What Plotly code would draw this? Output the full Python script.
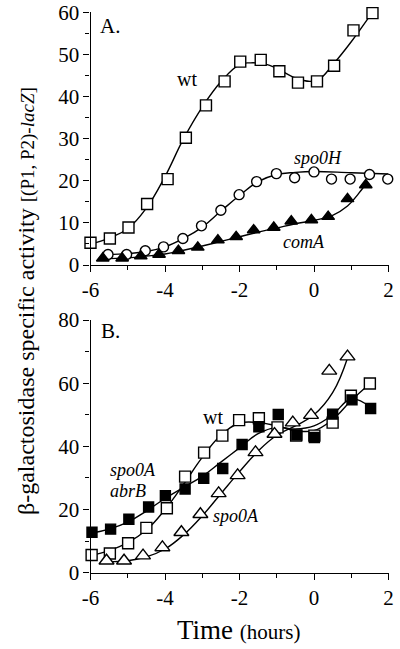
import plotly.graph_objects as go

# ---------------- Panel A data ----------------
a_wt_x = [-6.0, -5.48, -4.98, -4.48, -3.93, -3.44, -2.9, -2.4, -1.98, -1.43, -0.93, -0.43, 0.08, 0.54, 1.06, 1.57]
a_wt_y = [5.3, 6.3, 8.9, 14.5, 20.4, 30.2, 37.9, 43.6, 48.3, 48.7, 46.0, 43.3, 43.6, 47.3, 55.7, 59.8]
a_wt_fit_x = [-6.0, -5.5, -5.0, -4.5, -4.0, -3.5, -3.0, -2.5, -2.0, -1.7, -1.3, -1.0, -0.5, -0.1, 0.15, 0.5, 1.0, 1.55]
a_wt_fit_y = [5.0, 6.4, 8.6, 13.5, 21.0, 30.0, 37.5, 43.5, 47.6, 48.0, 47.7, 46.7, 44.4, 43.6, 44.2, 47.5, 53.0, 59.8]

a_h_x = [-5.53, -5.03, -4.53, -4.04, -3.52, -3.02, -2.5, -2.01, -1.54, -1.01, -0.52, 0.0, 0.47, 0.97, 1.49, 1.98]
a_h_y = [2.5, 2.5, 3.4, 4.3, 6.3, 9.3, 13.0, 16.7, 19.8, 21.7, 20.7, 22.1, 20.4, 20.4, 21.5, 20.4]
a_h_fit_x = [-5.55, -5.0, -4.5, -4.0, -3.5, -3.0, -2.5, -2.0, -1.5, -1.0, -0.5, 0.0, 1.0, 2.0]
a_h_fit_y = [2.5, 2.7, 3.2, 4.3, 6.3, 9.0, 12.8, 16.5, 19.8, 21.5, 22.0, 22.2, 21.9, 21.6]

a_c_x = [-5.67, -5.15, -4.65, -4.16, -3.64, -3.12, -2.58, -2.09, -1.62, -1.08, -0.61, -0.07, 0.38, 0.9, 1.39]
a_c_y = [1.6, 1.6, 2.1, 2.5, 3.4, 4.2, 5.9, 6.7, 8.3, 8.9, 10.4, 10.7, 11.5, 15.7, 19.0]
a_c_fit_x = [-5.7, -5.0, -4.5, -4.0, -3.5, -3.0, -2.5, -2.0, -1.5, -1.0, -0.5, 0.0, 0.5, 0.9, 1.2, 1.37]
a_c_fit_y = [1.5, 1.7, 2.1, 2.6, 3.5, 4.5, 5.6, 6.7, 7.8, 8.8, 9.8, 10.6, 11.8, 14.0, 17.0, 19.0]

# ---------------- Panel B data ----------------
b_wt_x = [-5.97, -5.48, -4.99, -4.5, -3.95, -3.46, -2.95, -2.46, -2.01, -1.48, -0.98, -0.48, 0.01, 0.5, 0.99, 1.5]
b_wt_y = [5.6, 6.1, 9.3, 14.2, 20.4, 30.4, 38.0, 43.4, 48.3, 48.9, 46.0, 43.4, 43.4, 47.5, 56.0, 59.9]
b_wt_fit_x = [-6.0, -5.5, -5.0, -4.5, -4.0, -3.5, -3.0, -2.5, -2.0, -1.5, -1.0, -0.5, 0.0, 0.5, 1.0, 1.5]
b_wt_fit_y = [5.4, 7.0, 9.5, 13.5, 20.0, 28.0, 36.5, 43.5, 47.3, 47.5, 46.5, 45.0, 45.0, 48.5, 54.5, 59.8]

b_ab_x = [-5.96, -5.46, -4.97, -4.44, -3.99, -3.46, -2.96, -2.45, -1.93, -1.48, -0.96, -0.46, 0.01, 0.5, 1.02, 1.52]
b_ab_y = [12.8, 13.8, 16.9, 20.8, 24.4, 26.5, 29.9, 33.0, 40.6, 46.2, 50.1, 43.6, 42.8, 50.2, 54.7, 52.0]
b_ab_fit_x = [-6.0, -5.5, -5.0, -4.5, -4.0, -3.5, -3.0, -2.5, -2.0, -1.5, -1.0, -0.5, 0.0, 0.5, 1.0, 1.5]
b_ab_fit_y = [12.5, 13.8, 16.0, 19.5, 23.5, 27.0, 30.5, 35.0, 39.5, 44.0, 46.0, 45.5, 46.5, 50.0, 55.0, 52.5]

b_a_x = [-5.57, -5.1, -4.59, -4.07, -3.56, -3.05, -2.56, -2.05, -1.57, -1.06, -0.57, -0.08, 0.41, 0.9]
b_a_y = [3.8, 3.8, 5.4, 8.0, 12.8, 18.5, 25.1, 30.8, 38.1, 43.9, 47.5, 49.9, 63.9, 68.4]
b_a_fit_x = [-5.6, -5.0, -4.5, -4.0, -3.5, -3.0, -2.5, -2.0, -1.5, -1.0, -0.5, 0.0, 0.5, 0.9]
b_a_fit_y = [3.5, 3.8, 5.0, 7.5, 12.0, 18.0, 25.0, 32.0, 38.5, 43.5, 46.5, 50.0, 57.0, 68.0]

x_ticks = [-6, -4, -2, 0, 2]
a_y_ticks = [0, 10, 20, 30, 40, 50, 60]
b_y_ticks = [0, 20, 40, 60, 80]

FONT = "Liberation Serif"
fig = go.Figure()

def curve(x, y, xa, ya):
    fig.add_trace(go.Scatter(x=x, y=y, mode="lines", xaxis=xa, yaxis=ya,
                             line=dict(color="black", width=1.4, shape="spline", smoothing=1.2),
                             hoverinfo="skip", showlegend=False))

def pts(x, y, xa, ya, symbol, size, fill):
    fig.add_trace(go.Scatter(x=x, y=y, mode="markers", xaxis=xa, yaxis=ya, cliponaxis=False,
                             marker=dict(symbol=symbol, size=size, color=fill,
                                         line=dict(color="black", width=1.4)),
                             showlegend=False))

curve(a_wt_fit_x, a_wt_fit_y, "x", "y")
curve(a_h_fit_x, a_h_fit_y, "x", "y")
curve(a_c_fit_x, a_c_fit_y, "x", "y")
pts(a_wt_x, a_wt_y, "x", "y", "square", 11, "white")
pts(a_h_x, a_h_y, "x", "y", "circle", 10, "white")
pts(a_c_x, a_c_y, "x", "y", "triangle-up", 11, "black")

curve(b_wt_fit_x, b_wt_fit_y, "x2", "y2")
curve(b_ab_fit_x, b_ab_fit_y, "x2", "y2")
curve(b_a_fit_x, b_a_fit_y, "x2", "y2")
pts(b_wt_x, b_wt_y, "x2", "y2", "square", 11, "white")
pts(b_ab_x, b_ab_y, "x2", "y2", "square", 10, "black")
pts(b_a_x, b_a_y, "x2", "y2", "triangle-up", 13, "white")

xdom = [90.5 / 400, 388.5 / 400]
axis_common = dict(showgrid=False, zeroline=False, showline=True, linecolor="black", linewidth=1.3,
                   ticks="outside", ticklen=6, tickwidth=1.3, tickcolor="black", automargin=False,
                   tickfont=dict(family=FONT, size=21, color="black"))
xa = dict(axis_common, range=[-6, 2], domain=xdom, tickvals=x_ticks, ticktext=[str(v) for v in x_ticks],
          minor=dict(dtick=1, tick0=0, ticks="outside", ticklen=4, tickwidth=1.3, tickcolor="black"))
fig.update_layout(
    xaxis=dict(xa, anchor="y"),
    yaxis=dict(axis_common, range=[0, 60], domain=[1 - 265 / 649, 1 - 12.3 / 649], anchor="x",
               tickvals=a_y_ticks, ticktext=[str(v) for v in a_y_ticks],
               minor=dict(dtick=5, tick0=0, ticks="outside", ticklen=4, tickwidth=1.3, tickcolor="black")),
    xaxis2=dict(xa, anchor="y2"),
    yaxis2=dict(axis_common, range=[0, 80], domain=[1 - 572.7 / 649, 1 - 320 / 649], anchor="x2",
                tickvals=b_y_ticks, ticktext=[str(v) for v in b_y_ticks],
                minor=dict(dtick=10, tick0=0, ticks="outside", ticklen=4, tickwidth=1.3, tickcolor="black")),
    width=400, height=649, margin=dict(l=0, r=0, t=0, b=0, autoexpand=False),
    paper_bgcolor="white", plot_bgcolor="white", showlegend=False,
)

def note(text, x, y, xr, yr, size=20, anchor="center"):
    fig.add_annotation(text=text, x=x, y=y, xref=xr, yref=yr, showarrow=False,
                       xanchor=anchor, yanchor="middle", font=dict(family=FONT, size=size, color="black"))

note("A.", -5.8, 56.8, "x", "y", 21, "left")
note("wt", -3.41, 44.1, "x", "y", 20)
note("<i>spo0H</i>", 0.11, 25.4, "x", "y", 18)
note("<i>comA</i>", -0.27, 5.45, "x", "y", 18)
note("B.", -5.77, 76.5, "x2", "y2", 21, "left")
note("wt", -2.71, 49.3, "x2", "y2", 20)
note("<i>spo0A</i>", -5.53, 32.5, "x2", "y2", 18, "left")
note("<i>abrB</i>", -5.53, 25.9, "x2", "y2", 18, "left")
note("<i>spo0A</i>", -2.09, 17.9, "x2", "y2", 18)

fig.add_annotation(text="β-galactosidase specific activity <span style='font-size:19px'>[(P1, P2)-<i>lacZ</i>]</span>",
                   x=26 / 400, y=1 - 301 / 649, xref="paper", yref="paper", textangle=-90,
                   showarrow=False, xanchor="center", yanchor="middle",
                   font=dict(family=FONT, size=24, color="black"))
fig.add_annotation(text="Time <span style='font-size:21px'>(hours)</span>",
                   x=238 / 400, y=1 - 630 / 649, xref="paper", yref="paper",
                   showarrow=False, xanchor="center", yanchor="middle",
                   font=dict(family=FONT, size=27, color="black"))

fig.write_html("out.html", config={"displayModeBar": False},
               post_script="document.body.style.margin='0';document.body.style.overflow='hidden';")
